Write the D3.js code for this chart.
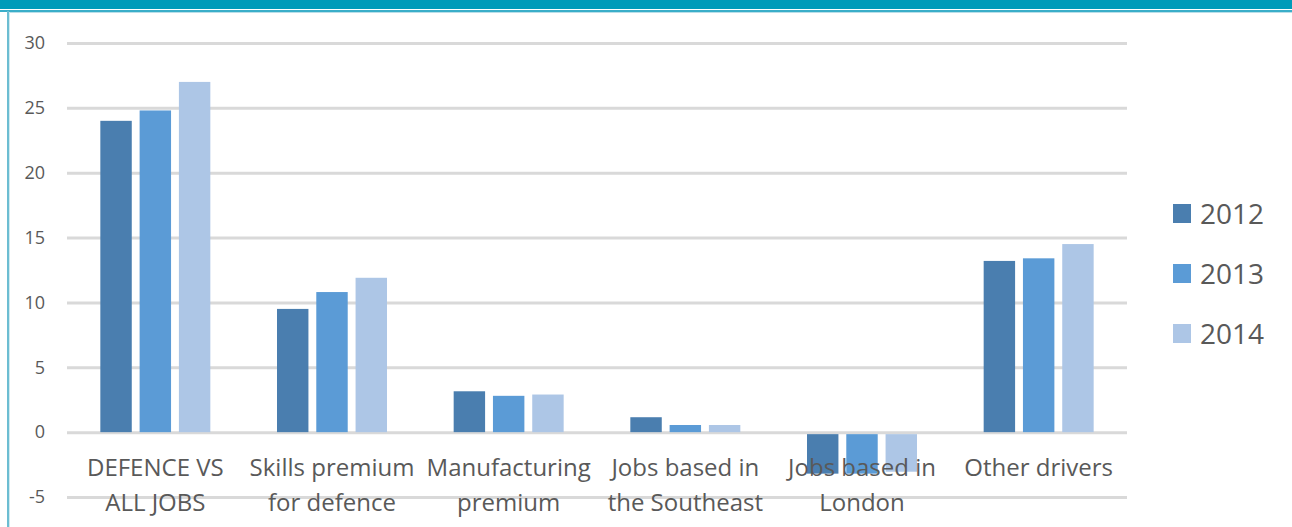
<!DOCTYPE html>
<html>
<head>
<meta charset="utf-8">
<script src="https://cdn.jsdelivr.net/npm/d3@7/dist/d3.min.js"></script>
<style>
  body { margin: 0; background: #ffffff; }
  svg { display: block; font-family: "Open Sans", Lato, sans-serif; }
</style>
</head>
<body>
<svg id="chart" width="1292" height="527"></svg>
<script>
// data
const categories = [
  ["DEFENCE VS", "ALL JOBS"],
  ["Skills premium", "for defence"],
  ["Manufacturing", "premium"],
  ["Jobs based in", "the Southeast"],
  ["Jobs based in", "London"],
  ["Other drivers"]
];
const years = ["2012", "2013", "2014"];
const values2012 = [24.0, 9.5, 3.15, 1.15, -3.2, 13.2];
const values2013 = [24.8, 10.8, 2.8, 0.55, -3.2, 13.4];
const values2014 = [27.0, 11.9, 2.9, 0.55, -3.05, 14.5];
const yTicks = [-5, 0, 5, 10, 15, 20, 25, 30];
const colors = ["#4a7eaf", "#5b9bd6", "#adc6e6"];

const series = [values2012, values2013, values2014];
const svg = d3.select('#chart');

// frame at top / left
svg.append('rect').attr('x', 0).attr('y', 0).attr('width', 1292).attr('height', 9).attr('fill', '#009bb9');
svg.append('line').attr('x1', 0).attr('x2', 1292).attr('y1', 11).attr('y2', 11)
  .attr('stroke', '#3aaec9').attr('stroke-width', 2);
svg.append('line').attr('x1', 7).attr('x2', 1292).attr('y1', 12.5).attr('y2', 12.5)
  .attr('stroke', '#b9dfe9').attr('stroke-width', 1);
svg.append('line').attr('x1', 8).attr('x2', 8).attr('y1', 11).attr('y2', 527)
  .attr('stroke', '#6cbdd2').attr('stroke-width', 2);
svg.append('line').attr('x1', 9.5).attr('x2', 9.5).attr('y1', 12).attr('y2', 527)
  .attr('stroke', '#d2eaf0').attr('stroke-width', 1);

const plotLeft = 67, plotRight = 1127;
const groupW = 110;
const x = d3.scaleBand().domain(d3.range(categories.length)).range([plotLeft, plotRight]);
const y = d3.scaleLinear().domain([-5, 30]).range([497, 43]);
const xInner = d3.scaleBand().domain(d3.range(years.length)).range([0, groupW]).paddingInner(0.2);

// gridlines + y labels
const yAxis = d3.axisLeft(y).tickValues(yTicks).tickFormat(d => String(d))
  .tickSize(-(plotRight - plotLeft)).tickPadding(22);
const yg = svg.append('g').attr('transform', `translate(${plotLeft},0)`).call(yAxis);
yg.select('.domain').remove();
yg.selectAll('.tick line').attr('stroke', '#d9d9d9').attr('stroke-width', 3);
yg.selectAll('.tick text').attr('fill', '#595959').attr('font-size', 18)
  .attr('font-family', '"Open Sans", Lato, sans-serif');

// bars
const groups = svg.append('g').selectAll('g').data(categories).join('g')
  .attr('transform', (d, i) => `translate(${x(i) + (x.bandwidth() - groupW) / 2},0)`);
groups.selectAll('rect').data((d, i) => series.map((s, k) => ({ k: k, v: s[i] }))).join('rect')
  .attr('x', d => xInner(d.k))
  .attr('width', xInner.bandwidth())
  .attr('y', d => y(Math.max(0, d.v)) + (d.v < 0 ? 2 : 0))
  .attr('height', d => Math.abs(y(d.v) - y(0)) - (d.v < 0 ? 2 : 0))
  .attr('fill', d => colors[d.k]);

// category labels (drawn over bars)
const labels = svg.append('g').selectAll('text').data(categories).join('text')
  .attr('x', (d, i) => x(i) + x.bandwidth() / 2)
  .attr('y', 476)
  .attr('text-anchor', 'middle')
  .attr('fill', '#595959')
  .attr('font-size', 24);
labels.selectAll('tspan').data(d => d).join('tspan')
  .attr('x', function () { return d3.select(this.parentNode).attr('x'); })
  .attr('dy', (d, j) => j === 0 ? 0 : 35)
  .text(d => d);

// legend
const legend = svg.append('g').selectAll('g').data(years).join('g')
  .attr('transform', (d, i) => `translate(1173,${204 + i * 60})`);
legend.append('rect').attr('width', 18).attr('height', 19).attr('fill', (d, i) => colors[i]);
legend.append('text').attr('x', 27).attr('y', 20).attr('fill', '#595959')
  .attr('font-size', 28).text(d => d);
</script>
</body>
</html>
